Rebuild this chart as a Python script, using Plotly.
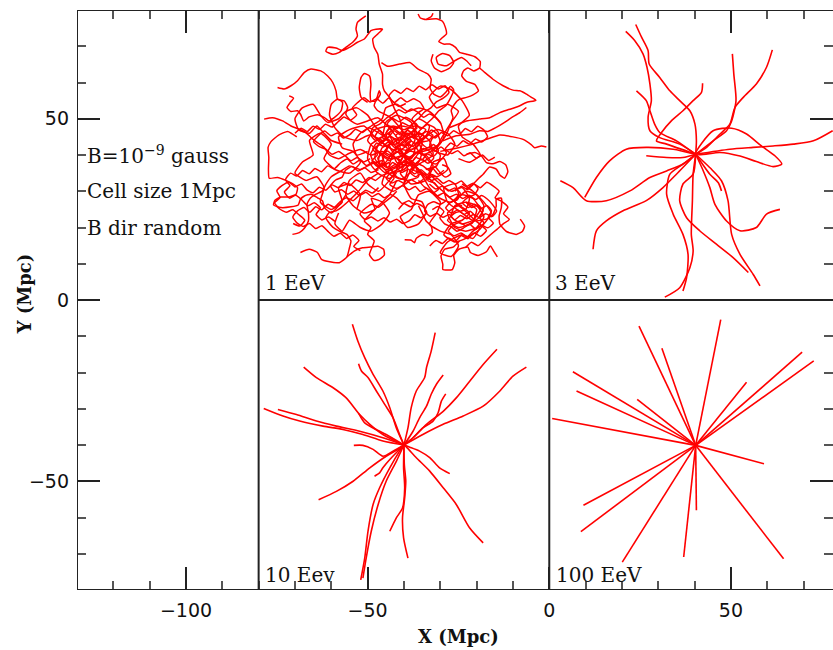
import plotly.graph_objects as go

# ---- axis ranges and ticks (Mpc) ----
x_range = [-130, 78.1]
y_range = [-80, 80]
major_step = 50
minor_step = 10

# ---- panel dividers ----
divider_x = [-80, 0]
divider_y = 0

# ---- panel labels ----
panel_labels = ["1 EeV", "3 EeV", "10 Eev", "100 EeV"]
panel_label_x = [-78.9, 1.0, -78.9, 1.4]
panel_label_y = [4.7, 4.7, -75.8, -75.8]

# ---- run parameters ----
param_lines = ["B=10<sup>\u22129</sup> gauss", "Cell size 1Mpc", "B dir random"]
param_y = [40, 30, 20]

# ---- 1 EeV: diffusive trajectories from the source near (-40, 40) ----
tracks_1eev = [
    [(-50.5,78.4),(-52.8,76.6),(-53.2,74.7),(-52.8,72.9),(-54.1,71.1),(-56.0,69.7),(-57.8,68.3),(-59.6,67.8),(-61.5,68.6),(-61.0,69.7),(-58.7,69.5),(-56.9,68.8),(-55.0,69.7),(-52.8,71.1),(-50.9,72.0),(-49.1,74.3),(-47.7,74.7),(-45.9,74.7),(-47.2,73.4),(-48.6,72.0),(-48.2,69.7),(-47.2,67.8),(-46.8,65.1),(-45.9,62.3),(-45.9,59.5),(-45.4,57.7),(-44.0,55.9),(-42.5,52.5),(-41.0,49.5),(-40.5,46.0),(-41.5,43.0)],
    [(-74.8,58.6),(-73.0,58.2),(-71.1,59.1),(-69.3,60.5),(-67.4,62.8),(-65.6,63.7),(-62.9,63.2),(-61.0,61.8),(-59.6,60.0),(-58.7,57.7),(-58.3,55.4),(-56.4,54.9),(-55.5,53.1),(-56.0,51.3),(-54.6,49.4),(-52.8,48.5),(-50.0,49.4),(-47.2,50.3),(-44.5,48.0),(-42.0,45.0)],
    [(-78.5,49.9),(-76.2,50.3),(-73.4,49.4),(-71.1,48.0),(-68.8,47.1),(-67.0,46.2),(-65.6,44.8),(-63.8,43.4),(-61.9,42.0),(-60.5,40.0),(-58.0,39.0),(-55.0,40.5),(-52.0,41.5),(-49.0,40.0),(-46.0,41.0),(-43.0,39.5)],
    [(-71.6,56.3),(-70.4,55.7),(-71.3,54.5),(-72.2,53.1),(-71.1,52.0),(-69.3,52.2),(-68.4,51.1),(-67.6,49.4),(-66.1,50.5),(-63.8,51.1),(-61.9,50.3),(-60.6,49.4),(-59.2,50.3),(-57.3,52.2),(-56.9,54.5),(-58.3,55.4),(-60.0,54.0),(-60.5,51.0),(-59.0,47.5),(-56.5,45.0),(-53.0,44.0),(-49.5,45.5),(-46.0,44.0)],
    [(-50.0,54.5),(-51.8,55.9),(-52.3,58.6),(-51.8,61.4),(-50.9,62.5),(-49.5,61.8),(-49.1,59.5),(-49.3,56.8),(-49.1,54.9),(-47.7,54.9),(-46.5,56.8),(-46.8,57.7),(-47.4,55.9),(-48.2,53.6),(-47.2,52.2),(-45.4,51.3),(-43.6,50.3),(-41.5,48.0),(-39.5,45.5)],
    [(-36.1,78.9),(-35.5,77.8),(-33.9,77.4),(-32.4,78.3),(-32.0,79.1)],
    [(-33.9,77.4),(-31.1,77.6),(-29.4,76.9),(-28.6,75.2),(-28.3,73.4),(-29.4,72.4),(-30.4,71.3),(-29.1,70.6),(-27.4,70.6),(-25.8,69.7),(-24.7,68.3),(-22.8,67.8),(-20.5,67.1),(-19.0,65.8),(-19.2,64.0),(-20.8,63.2),(-22.4,64.0),(-23.6,63.2),(-24.1,61.8),(-22.8,60.3),(-20.5,59.5),(-19.5,57.7),(-21.0,56.6),(-22.8,55.9),(-24.7,55.4),(-26.1,54.0),(-27.0,52.2),(-26.5,50.3),(-27.4,48.0),(-28.3,45.7),(-30.2,43.0),(-33.0,41.5),(-36.5,40.5)],
    [(-27.4,47.6),(-22.8,49.4),(-19.2,49.9),(-16.4,50.3),(-13.6,51.7),(-10.9,52.6),(-8.1,53.6),(-6.3,54.5),(-3.7,55.1),(-4.9,55.9),(-6.3,56.8),(-8.1,57.7),(-10.0,57.9),(-12.7,59.1),(-15.5,60.9),(-17.8,62.8),(-19.2,64.0)],
    [(-29.3,43.9),(-25.6,45.3),(-21.9,45.7),(-19.2,46.7),(-16.9,46.5),(-14.6,47.6),(-12.3,49.0),(-10.4,50.3),(-8.1,51.7),(-6.3,53.1)],
    [(-30.0,41.0),(-25.0,42.0),(-21.0,43.0),(-17.3,44.3),(-13.6,45.5),(-10.0,45.0),(-7.2,44.3),(-4.9,42.8),(-4.0,42.0),(-2.2,42.5),(-0.8,42.2)],
    [(-46.2,65.5),(-44.5,64.5),(-41.2,65.1),(-38.4,65.5),(-36.1,63.7),(-33.4,62.3),(-32.5,60.9),(-32.8,58.4),(-31.8,56.8),(-30.0,56.0),(-28.3,57.5),(-27.2,59.0),(-26.3,57.9),(-27.2,55.7),(-28.5,53.6),(-30.4,52.2),(-32.0,50.3),(-33.9,48.5),(-35.7,46.7),(-37.5,44.5)],
    [(-32.0,67.8),(-32.5,66.0),(-31.6,64.0),(-29.7,63.0),(-27.4,64.0),(-26.3,65.5),(-27.4,67.4),(-29.4,68.0),(-31.1,66.9),(-30.6,65.1),(-28.3,64.6),(-26.0,66.0),(-24.2,66.9),(-22.8,66.0),(-21.5,64.6)],
    [(-69.5,45.0),(-72.0,46.5),(-74.5,45.5),(-76.6,43.7),(-77.4,42.1),(-77.2,39.3),(-77.3,36.1),(-77.1,33.6),(-74.8,33.8),(-72.5,33.0),(-70.7,32.1),(-69.3,31.0),(-69.7,29.2),(-71.6,28.4),(-73.9,28.4),(-75.5,27.5),(-75.9,26.2),(-73.9,25.5),(-71.1,25.7),(-69.1,26.2),(-68.5,27.8),(-67.4,28.7),(-65.6,29.2),(-63.8,28.2),(-62.4,27.3),(-61.9,25.5),(-60.0,24.0),(-58.0,26.0),(-56.0,29.0)],
    [(-70.7,18.1),(-68.8,18.6),(-67.4,19.8),(-66.3,21.8),(-66.3,24.1),(-66.7,26.4),(-65.8,28.1),(-64.2,29.2),(-62.4,30.1),(-61.5,31.9),(-60.0,34.0),(-57.5,35.5),(-55.0,37.0),(-52.0,36.0),(-49.0,37.5),(-46.0,38.5)],
    [(-68.5,13.1),(-66.1,14.0),(-63.8,13.1),(-62.7,11.2),(-60.8,10.6),(-57.8,10.3),(-55.7,11.9),(-55.0,14.4),(-54.6,16.3),(-55.7,18.1),(-57.8,19.0),(-59.6,20.1),(-61.0,21.8),(-61.5,22.7),(-60.6,24.1),(-58.7,24.6),(-57.3,25.5),(-55.0,27.5),(-52.5,30.0),(-50.0,33.0),(-47.0,35.0)],
    [(-55.7,11.9),(-53.7,13.5),(-51.4,14.4),(-49.1,14.6),(-47.2,14.8),(-45.6,14.0),(-45.4,12.4),(-46.8,11.2),(-48.2,10.9),(-49.5,12.5),(-48.2,16.3),(-50.0,18.1),(-49.1,20.0),(-50.9,21.8),(-49.0,24.0),(-46.5,26.5),(-44.0,29.0),(-42.0,33.0)],
    [(-24.7,16.3),(-26.5,14.6),(-28.8,14.0),(-29.8,12.1),(-29.3,9.8),(-29.3,8.4),(-26.7,8.4),(-26.0,10.3),(-26.3,12.3),(-24.9,14.0),(-22.4,14.6),(-21.7,13.1),(-19.6,12.3),(-17.3,13.3),(-16.2,14.9),(-15.3,13.5),(-14.3,11.9)],
    [(-20.1,21.8),(-17.3,22.3),(-15.5,23.6),(-14.6,25.9),(-14.6,27.8),(-13.2,28.1),(-13.2,25.5),(-13.8,23.2),(-13.6,20.9),(-11.8,18.9),(-9.1,18.1),(-7.4,18.9),(-6.8,20.4),(-8.0,22.3)],
    [(-22.8,40.2),(-20.5,40.7),(-18.7,39.8),(-17.3,37.9),(-15.5,37.6),(-13.6,38.2),(-12.0,37.3),(-11.4,35.4),(-12.3,33.6),(-13.6,34.5),(-14.6,36.1),(-16.4,36.7),(-18.2,34.7),(-19.2,33.8),(-21.0,32.0),(-23.0,30.5)],
    [(-39.8,16.6),(-38.0,16.5),(-37.1,15.8),(-36.6,17.0),(-34.8,18.1),(-33.4,17.7),(-32.2,18.6),(-32.5,20.4),(-33.9,21.8),(-34.8,23.6),(-36.0,26.0)],
    # dense core around the source
    [(-40,40),(-43,43),(-46,42),(-47,38),(-44,35),(-40,36),(-37,39),(-35,43),(-37,47),(-41,48),(-44,46),(-42,42),(-38,41),(-34,40),(-32,37),(-34,33),(-38,32),(-41,35),(-39,38),(-36,36),(-33,31),(-30,28),(-27,27),(-25,29),(-26,32),(-29,31),(-28,27),(-24,24),(-21,22),(-20,25),(-23,27)],
    [(-40,40),(-37,44),(-38,49),(-42,51),(-45,49),(-46,45),(-49,43),(-50,39),(-48,36),(-45,38),(-43,41),(-40,44),(-36,46),(-33,44),(-32,40),(-35,38),(-38,36),(-40,32),(-43,30),(-46,32),(-45,35),(-41,37)],
    [(-40,40),(-42,37),(-45,36),(-48,39),(-47,43),(-44,45),(-41,44),(-39,47),(-36,50),(-33,48),(-34,45),(-37,43),(-35,40),(-31,42),(-29,45),(-30,49),(-33,52),(-36,53),(-39,52),(-42,54),(-45,53),(-46,50),(-49,48),(-52,46),(-54,43),(-53,40),(-50,41)],
    [(-40,40),(-38,38),(-35,35),(-31,34),(-28,36),(-29,39),(-32,38),(-33,35),(-30,32),(-27,30),(-24,31),(-22,28),(-23,25),(-26,24),(-28,22),(-25,20),(-22,21),(-19,23),(-18,26),(-20,29),(-23,30),(-26,27),(-24,26)],
    [(-40,40),(-44,39),(-47,41),(-50,44),(-48,47),(-44,48),(-41,46),(-38,44),(-40,42),(-43,40),(-44,37),(-42,34),(-39,33),(-36,34),(-37,37),(-40,38),(-36,41),(-33,42),(-30,40),(-31,37),(-34,36)],
    [(-40,40),(-44,42),(-48,45),(-51,48),(-55,47),(-58,45),(-57,42),(-54,41),(-52,38),(-55,35),(-59,36),(-62,39),(-60,43),(-63,46),(-66,44),(-65,40),(-68,38),(-70,35),(-67,33),(-64,34),(-62,31),(-63,27),(-60,25),(-57,27),(-58,31),(-55,32),(-52,29),(-53,25)],
    [(-40,40),(-42,36),(-44,33),(-47,30),(-50,32),(-52,35),(-55,33),(-56,29),(-54,26),(-51,24),(-48,25),(-49,28),(-46,27),(-44,24),(-46,21),(-49,19),(-52,20),(-55,22),(-57,19),(-59,21),(-58,24)],
    [(-40,40),(-39,36),(-40,32),(-38,28),(-35,27),(-34,24),(-36,21),(-39,20),(-41,23),(-38,25),(-36,29),(-33,30),(-30,27),(-31,24),(-33,21),(-30,19),(-27,18),(-25,15),(-27,12),(-30,13),(-28,16),(-24,18),(-21,17),(-19,20)],
    [(-40,40),(-37,42),(-34,45),(-31,47),(-28,46),(-26,43),(-28,40),(-31,41),(-30,44),(-27,49),(-25,52),(-28,54),(-31,53),(-33,56),(-30,59),(-27,58),(-24,55),(-22,51),(-25,48),(-24,45),(-21,43),(-19,40),(-22,38),(-25,39)],
    [(-27,27),(-24,29),(-21,28),(-19,25),(-21,22),(-24,21),(-27,23),(-26,26),(-23,27),(-20,26),(-18,23),(-20,20),(-23,19),(-26,20),(-28,24),(-25,26),(-22,24),(-24,22),(-27,21),(-29,18),(-26,16),(-23,17),(-21,19),(-18,21),(-16,24),(-18,27),(-21,30),(-24,32)],
    [(-36,45),(-39,46),(-42,44),(-41,40),(-38,39),(-37,42),(-40,43),(-43,41),(-42,38),(-39,37),(-36,38),(-35,41),(-36,44),(-34,47),(-37,48),(-40,47),(-43,48),(-45,46),(-44,43),(-46,40),(-45,37)],
    [(-45,45),(-48,48),(-50,51),(-53,53),(-56,52),(-58,50),(-61,49),(-63,51),(-65,54),(-68,53),(-70,50),(-69,47),(-66,46),(-64,48),(-62,46),(-60,44),(-57,43)],
    [(-40,40),(-41.5,41.8),(-43.2,41.0),(-44.0,42.8),(-42.6,44.5),(-40.8,44.0),(-39.2,45.6),(-37.5,44.8),(-36.0,46.2),(-34.4,45.1),(-35.2,43.3),(-33.6,42.0),(-31.8,42.9),(-30.5,41.2),(-31.9,39.6),(-33.7,40.3),(-35.0,38.6),(-36.8,39.4),(-38.1,37.8),(-39.9,38.5),(-41.4,37.0),(-43.1,37.9),(-44.6,36.5),(-46.1,37.6),(-45.5,39.5),(-46.9,41.0)],
    [(-40,40),(-38.6,42.1),(-39.8,44.0),(-38.2,46.1),(-36.4,47.5),(-37.6,49.3),(-39.5,50.4),(-41.3,49.2),(-43.1,50.1),(-44.6,48.6),(-43.4,46.9),(-45.2,45.5),(-46.8,46.8),(-48.0,45.0),(-46.6,43.3),(-47.9,41.6),(-46.2,40.2),(-44.5,41.1),(-42.9,39.6),(-41.1,38.6),(-42.2,36.8),(-40.6,35.2),(-38.8,36.1),(-37.1,34.8),(-35.3,35.9),(-33.5,34.6),(-32.0,36.2),(-30.6,34.7),(-29.0,35.8)],
    [(-40,40),(-37.9,39.3),(-36.3,40.8),(-34.5,39.9),(-33.0,38.2),(-31.2,37.5),(-29.6,38.9),(-28.3,40.7),(-29.8,42.2),(-31.5,41.0),(-32.9,42.7),(-32.2,44.6),(-30.4,45.9),(-31.7,47.6),(-33.6,48.4),(-35.4,47.2),(-36.9,48.8),(-38.6,48.0),(-40.4,48.9),(-41.9,47.3),(-43.6,47.9),(-44.8,46.2),(-43.2,44.9),(-41.7,43.2),(-39.9,42.5),(-38.3,43.9),(-36.5,43.1),(-35.0,44.6)],
    [(-40,40),(-41.7,39.0),(-40.3,37.4),(-41.8,35.9),(-43.6,35.1),(-44.9,33.6),(-43.3,32.3),(-41.5,33.0),(-39.7,32.0),(-38.0,33.2),(-36.3,32.3),(-34.6,33.5),(-35.8,35.2),(-37.6,35.9),(-36.5,37.6),(-34.8,37.0),(-33.1,35.8),(-31.4,36.7),(-30.1,35.2),(-28.6,33.9),(-27.1,34.8),(-27.9,36.6),(-29.5,37.3)],
    [(-40,40),(-42.1,40.9),(-43.9,39.5),(-45.6,40.4),(-47.2,39.2),(-46.5,37.3),(-47.8,35.6),(-46.2,34.4),(-44.4,34.9),(-42.7,33.7),(-43.9,31.9),(-42.2,30.8),(-40.3,31.5),(-38.6,30.4),(-36.9,31.3),(-35.5,29.9),(-33.7,30.8),(-32.1,29.5),(-30.5,30.6),(-31.6,32.3),(-33.4,32.9),(-32.6,34.7),(-30.8,33.9)],
    [(-40,40),(-39.1,41.9),(-40.9,42.9),(-42.5,42.0),(-44.3,43.6),(-45.8,42.4),(-47.5,43.3),(-48.6,41.6),(-47.3,40.1),(-48.8,38.4),(-47.4,36.9),(-45.6,37.8),(-44.2,36.3),(-42.4,37.4),(-40.8,36.4),(-39.3,37.9),(-37.4,37.2),(-38.5,35.4),(-36.8,34.0),(-35.1,34.9),(-33.7,33.4),(-32.0,34.3)],
    [(-40,40),(-38.4,41.5),(-36.7,41.9),(-35.3,43.5),(-33.4,43.9),(-32.0,45.4),(-33.8,46.5),(-35.6,45.6),(-37.3,46.6),(-38.9,45.5),(-40.6,46.4),(-42.3,45.4),(-41.2,43.8),(-42.9,42.8),(-44.7,44.1),(-46.3,44.9),(-47.9,44.1),(-49.2,45.6),(-48.5,47.6),(-46.7,48.5),(-45.0,50.0),(-43.1,51.3),(-41.4,52.5),(-39.6,51.6),(-38.0,52.7),(-36.2,51.8),(-34.6,50.4),(-33.0,51.3),(-31.2,50.2),(-29.8,48.6)],
    [(-40,40),(-41.2,42.6),(-39.5,43.8),(-37.7,42.4),(-36.0,43.7),(-37.3,45.5),(-39.1,46.8),(-40.9,45.5),(-42.7,46.7),(-44.2,45.0),(-45.9,43.6),(-44.5,41.8),(-45.9,40.0),(-44.1,38.5),(-42.3,39.2),(-40.5,37.8),(-38.7,39.0),(-36.9,37.6),(-35.2,38.9),(-33.4,37.7),(-31.8,39.2),(-32.9,41.0),(-34.7,41.8),(-36.2,40.2)],
    [(-40,40),(-38.9,37.7),(-37.2,36.2),(-38.9,34.6),(-40.7,33.3),(-42.5,34.0),(-43.5,36.0),(-45.3,35.2),(-46.9,36.6),(-48.4,38.1),(-49.2,40.2),(-48.1,42.0),(-46.4,43.0),(-44.6,44.4),(-42.9,43.4),(-41.2,44.9),(-39.5,43.8),(-37.7,45.1),(-35.9,44.0),(-34.1,45.2),(-32.4,46.9),(-30.7,45.6),(-30.0,43.5),(-31.5,42.0),(-33.2,40.5)],
    # second concentration around (-24, 25)
    [(-33,32),(-31.2,30.6),(-29.5,31.4),(-27.8,30.1),(-26.0,30.9),(-24.5,29.5),(-25.3,27.7),(-27.1,27.0),(-28.5,25.4),(-27.0,24.0),(-25.2,24.8),(-23.5,23.6),(-21.8,24.5),(-20.4,23.0),(-21.2,21.2),(-23.0,20.5),(-24.7,21.4),(-26.5,20.6),(-27.8,19.0),(-26.2,17.7),(-24.3,18.5),(-22.6,17.4),(-20.8,18.3),(-19.1,19.5),(-18.0,21.3),(-19.3,22.9),(-18.2,24.6),(-19.6,26.2),(-21.4,25.5),(-22.9,27.0)],
    [(-34,34),(-32.5,33.0),(-30.8,33.5),(-29.2,32.2),(-27.6,33.0),(-25.9,32.0),(-24.2,32.8),(-22.6,31.4),(-21.0,32.2),(-19.6,30.7),(-20.7,29.0),(-22.4,28.3),(-23.9,26.8),(-22.3,25.5),(-20.6,26.4),(-18.9,25.2),(-17.2,26.1),(-15.9,24.6),(-16.8,22.8),(-15.4,21.2),(-16.9,19.9),(-18.6,20.6),(-20.3,19.6),(-21.9,20.9),(-23.7,19.8),(-25.4,19.0),(-27.0,20.2),(-28.8,21.0),(-30.1,22.7),(-29.0,24.4),(-30.6,25.8),(-32.2,24.9)],
    [(-36,33),(-34.4,31.2),(-32.6,30.1),(-30.9,28.7),(-29.1,29.5),(-27.4,28.4),(-25.6,29.2),(-23.8,28.0),(-22.1,28.9),(-20.3,27.7),(-18.7,28.8),(-17.0,27.8),(-15.6,26.3),(-14.5,24.5),(-15.8,23.0),(-17.5,23.8),(-19.2,22.7),(-20.9,23.6),(-22.7,22.4),(-24.4,23.3),(-26.1,22.1),(-27.5,23.6),(-29.3,22.8),(-31.0,23.9),(-32.8,23.1),(-34.3,24.5),(-33.5,26.3),(-31.8,27.1),(-30.0,26.4),(-28.3,27.5)],
    [(-40,40),(-38.3,38.2),(-36.5,36.6),(-34.8,35.0),(-33.0,33.5),(-31.3,31.8),(-29.5,30.2),(-27.8,28.6),(-26.0,27.1),(-24.3,25.5),(-22.5,24.0),(-20.8,22.3),(-19.0,20.8),(-17.3,19.2),(-18.9,17.6),(-20.7,18.5),(-22.4,16.9),(-24.2,17.8),(-25.9,16.2),(-27.7,17.1),(-29.4,15.6),(-31.2,16.4),(-32.9,14.9)],
    [(-26,30),(-24.2,31.4),(-22.5,30.5),(-20.7,32.0),(-19.0,31.0),(-17.2,32.5),(-15.5,31.5),(-13.8,30.0),(-14.9,28.2),(-13.1,27.2),(-11.4,25.6),(-12.6,23.8),(-11.0,22.2),(-12.7,21.0),(-14.4,19.5),(-16.2,18.0),(-17.9,16.5),(-19.6,15.0),(-21.4,15.9),(-23.1,14.4)],
    # spread between the two concentrations and to the west / north
    [(-47,36),(-49.1,35.2),(-50.8,36.5),(-52.6,35.6),(-54.3,36.8),(-56.1,35.8),(-57.0,33.9),(-58.8,33.1),(-60.2,31.5),(-59.0,29.8),(-57.2,30.4),(-55.5,29.2),(-53.8,30.1),(-52.2,28.8),(-50.5,29.7),(-48.8,28.5),(-47.1,29.4),(-45.4,28.2),(-43.8,29.1),(-42.0,28.1),(-40.5,26.6),(-38.7,27.4),(-37.0,26.2)],
    [(-44,44),(-46.0,45.5),(-47.8,46.6),(-49.7,47.5),(-51.4,46.2),(-53.3,47.1),(-54.9,45.6),(-56.7,44.7),(-58.3,46.1),(-60.1,45.3),(-61.8,46.6),(-63.5,45.4),(-64.9,43.7),(-63.3,42.3),(-61.5,41.6),(-59.8,40.2),(-58.0,41.0),(-56.2,39.8),(-54.6,38.4),(-52.9,39.3),(-51.1,38.1),(-49.3,39.0)],
    [(-42,30),(-43.6,28.3),(-45.3,27.0),(-47.0,25.6),(-48.8,26.4),(-50.6,25.3),(-52.1,23.7),(-50.7,22.2),(-49.0,22.9),(-47.2,21.8),(-45.5,22.7),(-43.8,21.5),(-42.0,22.3),(-40.3,21.1),(-38.5,21.9),(-37.0,23.5),(-35.3,22.7),(-33.7,24.1),(-34.8,25.8),(-36.5,26.6),(-38.2,25.7),(-40.0,26.6),(-41.5,25.0)],
    [(-44,38),(-46.5,36.8),(-48.3,38.2),(-50.4,37.1),(-52.1,38.6),(-54.0,37.5),(-55.6,38.9),(-57.5,37.8),(-59.2,36.2),(-61.0,37.0),(-62.7,35.4),(-64.5,36.3),(-66.1,34.8),(-67.9,35.7),(-69.5,34.2),(-71.2,35.0),(-72.6,33.2),(-71.4,31.5),(-72.9,29.8),(-71.5,28.1),(-69.8,28.9),(-68.1,27.6),(-66.5,26.0),(-64.7,26.8),(-63.0,25.4),(-64.2,23.6),(-62.6,22.1),(-60.8,22.9),(-59.0,21.7)],
    [(-42,35),(-44.0,33.5),(-46.1,34.3),(-47.8,33.0),(-49.6,33.8),(-51.3,32.4),(-53.2,33.1),(-54.8,31.6),(-56.5,32.4),(-58.1,31.0),(-59.9,31.8),(-61.5,30.3),(-63.3,31.1),(-65.0,29.6),(-66.7,30.4),(-68.2,32.0),(-70.0,31.2),(-71.7,32.5),(-73.5,31.6),(-75.0,30.1),(-74.1,28.3),(-75.6,26.8),(-74.2,25.1),(-72.4,24.2),(-70.6,24.9),(-68.9,23.5),(-67.3,22.0),(-68.7,20.4),(-70.5,21.1)],
    [(-47,31),(-48.7,29.5),(-50.5,30.3),(-52.3,28.9),(-54.0,27.4),(-55.8,28.2),(-57.6,27.1),(-59.2,25.6),(-60.9,26.4),(-62.6,24.9),(-64.3,25.7),(-65.9,24.2),(-67.5,25.5),(-69.3,24.6),(-70.6,22.9),(-69.4,21.2),(-67.7,20.3),(-66.0,21.1),(-64.3,19.7),(-62.6,20.5),(-61.0,19.0),(-59.3,17.6),(-57.5,18.4),(-55.8,17.0),(-54.1,17.9),(-52.4,16.4),(-53.8,14.8),(-52.0,13.6)],
    [(-38,46),(-36.6,48.0),(-37.8,49.9),(-36.2,51.6),(-34.5,52.8),(-35.6,54.6),(-37.4,55.5),(-39.2,54.6),(-40.9,55.8),(-42.6,54.5),(-44.2,55.7),(-45.8,54.3),(-47.5,55.5),(-49.3,54.6),(-51.0,55.8),(-52.7,54.5),(-54.2,52.9),(-53.0,51.1),(-54.7,49.6),(-56.5,50.5),(-58.2,49.1),(-59.8,47.7),(-61.6,48.5),(-63.2,47.1),(-65.0,47.9),(-66.6,46.5),(-68.3,47.4),(-70.0,46.0)],
    [(-35,44),(-33.2,45.6),(-31.4,44.7),(-29.7,46.2),(-28.0,45.3),(-26.3,46.7),(-24.6,45.8),(-23.1,47.3),(-21.4,46.4),(-19.7,47.9),(-18.0,46.9),(-17.0,45.0),(-18.6,43.6),(-20.3,44.4),(-22.0,43.0),(-23.7,43.9),(-25.4,42.4),(-27.1,43.3),(-28.6,41.7),(-26.9,40.4),(-25.2,41.2),(-23.5,39.8),(-21.8,40.6),(-20.1,39.1),(-18.4,40.0),(-16.7,38.5),(-15.0,39.4)],
    [(-36,50),(-34.4,51.8),(-32.6,53.0),(-31.0,54.7),(-29.2,55.7),(-27.6,57.3),(-28.7,59.1),(-30.5,58.2),(-32.3,59.4),(-34.0,58.0),(-35.8,59.0),(-37.4,57.5),(-39.2,58.4),(-40.8,57.0),(-42.6,57.9),(-44.1,56.4),(-43.0,54.6),(-41.3,53.4),(-39.5,54.2)],
]

# ---- 3 EeV: source at (40, 40) ----
tracks_3eev = [
    [(23.8,76.0),(25.4,72.5),(27.2,68.8),(27.5,65.1),(30.4,61.4),(33.2,57.7),(35.9,55.0),(38.7,52.2),(40.1,48.5),(40.5,43.9),(40.3,40.2)],
    [(21.05,74.1),(23.5,71.6),(25.8,67.9),(26.9,64.2),(27.7,59.6),(28.1,55.0),(27.2,50.4),(27.7,46.7),(30.4,44.8),(35.9,43.0),(40.3,40.2)],
    [(42.2,59.8),(41.9,57.3),(39.6,55.0),(36.8,52.2),(33.6,49.4),(30.9,46.2),(29.5,43.9),(32.3,43.0),(40.3,40.2)],
    [(24.0,57.7),(26.7,55.0),(27.7,52.2),(29.0,48.5),(30.4,46.2),(35.0,43.9),(40.3,40.2)],
    [(50.4,67.9),(50.8,62.3),(51.4,55.0),(50.2,49.4),(48.8,46.7),(45.1,43.9),(40.3,40.2)],
    [(61.4,69.0),(59.8,64.2),(57.0,59.6),(53.4,55.9),(51.1,53.1),(49.7,48.5),(47.0,45.8),(43.3,42.1),(40.3,40.2)],
    [(78.0,46.7),(72.7,43.9),(67.2,43.0),(61.6,42.5),(56.1,42.1),(49.7,41.6),(40.3,40.2)],
    [(40.3,40.2),(45.1,46.7),(50.2,47.4),(54.3,45.8),(58.4,42.5),(62.1,39.8),(64.0,37.5),(61.6,36.8),(57.0,38.2),(52.5,39.7),(47.0,40.7),(40.3,40.2)],
    [(3.05,32.9),(6.54,31.0),(10.2,27.4),(15.7,27.4),(22.2,30.1),(27.7,33.8),(32.3,35.6),(36.8,37.5),(40.3,40.2)],
    [(9.76,28.3),(12.97,33.8),(16.6,38.4),(21.2,41.6),(26.7,42.1),(34.1,41.6),(40.3,40.2)],
    [(12.05,14.0),(12.97,19.1),(15.7,21.8),(20.3,24.6),(26.7,27.4),(31.3,31.0),(35.0,34.7),(40.3,40.2)],
    [(63.5,25.0),(59.8,23.7),(57.0,20.0),(52.5,19.1),(48.8,21.8),(45.6,26.4),(44.2,31.0),(42.4,35.6),(40.3,40.2)],
    [(58.0,3.9),(56.1,7.1),(52.5,12.6),(50.2,18.1),(49.2,27.4),(47.4,32.9),(45.1,35.6),(40.3,40.2)],
    [(54.8,7.6),(50.6,11.7),(46.0,15.4),(41.4,19.1),(37.8,22.7),(35.9,27.4),(36.8,32.0),(39.6,34.7),(40.3,40.2)],
    [(31.8,0.8),(35.9,3.4),(38.7,8.9),(39.6,13.5),(39.1,18.1),(39.4,27.4),(39.6,34.7),(40.3,40.2)],
    [(36.8,2.5),(37.8,6.2),(38.2,12.6),(36.8,18.1),(34.1,23.7),(32.3,29.2),(33.2,34.7),(36.8,37.5),(40.3,40.2)],
    [(26.7,39.8),(32.3,39.3),(36.8,39.3),(40.3,40.2)],
    [(47.4,30.1),(46.5,32.4),(44.2,34.7),(40.3,40.2)],
]

# ---- 10 EeV: source at (-40, -40) ----
tracks_10eev = [
    [(-54.2,-6.7),(-52.7,-11.3),(-50.8,-15.9),(-48.5,-20.5),(-45.8,-25.1),(-43.9,-29.7),(-42.1,-35.3),(-40,-40)],
    [(-52.5,-17.6),(-51.7,-19.6),(-49.9,-21.4),(-47.6,-25.1),(-45.3,-28.8),(-43.0,-32.5),(-41.2,-37.1),(-40,-40)],
    [(-67.6,-18.5),(-64.1,-21.4),(-59.5,-24.2),(-55.9,-27.0),(-52.2,-31.6),(-49.4,-34.3),(-45.8,-37.1),(-40,-40)],
    [(-78.6,-29.9),(-73.3,-32.0),(-68.7,-33.4),(-62.3,-34.8),(-56.8,-35.7),(-51.3,-37.1),(-45.8,-38.9),(-40,-40)],
    [(-74.7,-30.2),(-69.6,-31.6),(-64.1,-33.4),(-58.6,-34.8),(-52.2,-36.2),(-45.8,-38.0),(-40,-40)],
    [(-52.4,-31.4),(-50.8,-33.9),(-48.5,-35.3),(-44.9,-37.1),(-40,-40)],
    [(-31.4,-9.0),(-32.5,-14.1),(-33.8,-18.7),(-34.3,-21.4),(-36.6,-25.1),(-38.0,-29.7),(-38.9,-35.3),(-40,-40)],
    [(-29.2,-20.7),(-31.1,-23.3),(-32.5,-26.0),(-33.8,-29.3),(-35.7,-32.5),(-37.5,-36.2),(-40,-40)],
    [(-28.5,-25.9),(-29.7,-27.9),(-30.6,-31.1),(-32.0,-33.4),(-34.8,-35.3),(-37.5,-38.0),(-40,-40)],
    [(-14.4,-13.6),(-18.2,-17.8),(-21.9,-22.4),(-25.6,-27.0),(-29.2,-30.7),(-33.8,-34.3),(-37.5,-38.0),(-40,-40)],
    [(-6.3,-18.5),(-10.0,-21.0),(-13.6,-25.1),(-18.2,-29.3),(-23.7,-32.0),(-29.2,-34.3),(-34.8,-37.1),(-40,-40)],
    [(-53.8,-40.1),(-51.3,-40.1),(-48.5,-41.2),(-45.8,-43.1),(-43.0,-41.7),(-40,-40)],
    [(-27.4,-47.9),(-30.2,-46.3),(-32.9,-43.5),(-35.7,-41.7),(-38.4,-40.6),(-40,-40)],
    [(-63.5,-55.1),(-58.6,-52.8),(-54.0,-50.0),(-49.4,-46.3),(-44.9,-43.1),(-42.1,-41.5),(-40,-40)],
    [(-18.2,-67.0),(-21.9,-62.9),(-25.6,-56.4),(-29.2,-51.8),(-32.9,-47.2),(-36.6,-43.5),(-39.3,-40.6),(-40,-40)],
    [(-38.9,-71.2),(-40.1,-65.6),(-40.4,-60.1),(-39.8,-54.6),(-39.5,-50.0),(-39.9,-45.4),(-40,-40)],
    [(-43.9,-63.8),(-42.1,-60.1),(-40.4,-57.4),(-39.8,-51.8),(-40.1,-46.3),(-40,-40)],
    [(-51.9,-77.2),(-50.8,-71.2),(-49.9,-63.8),(-48.5,-56.4),(-46.7,-51.8),(-43.9,-46.3),(-41.2,-41.7),(-40,-40)],
    [(-51.3,-76.7),(-50.4,-71.2),(-49.0,-63.8),(-47.1,-56.4),(-44.9,-50.0),(-42.1,-44.5),(-40,-40)],
    [(-48.1,-48.6),(-46.7,-47.7),(-45.8,-46.3),(-43.9,-44.0),(-40,-40)],
]

# ---- 100 EeV: nearly straight paths from the source at (40, -40) ----
source_100eev = (40.3, -40.1)
ends_100eev = [
    (24.7,-7.2),(31.0,-13.3),(47.2,-5.4),(6.5,-19.8),(7.5,-25.1),(24.2,-27.4),
    (0.8,-32.7),(54.3,-22.7),(69.6,-14.4),(72.8,-16.8),(59.1,-45.2),(9.4,-56.6),
    (8.7,-63.9),(20.1,-72.3),(37.0,-70.9),(40.5,-58.0),(64.5,-71.4),
]
tracks_100eev = [[source_100eev, end] for end in ends_100eev]


def flatten(tracks):
    xs, ys = [], []
    for tr in tracks:
        for x, y in tr:
            xs.append(x)
            ys.append(y)
        xs.append(None)
        ys.append(None)
    return xs, ys


fig = go.Figure()
for tracks, shape, smooth, width in [(tracks_1eev, "spline", 0.5, 1.5),
                                     (tracks_3eev, "spline", 0.7, 1.6),
                                     (tracks_10eev, "spline", 0.7, 1.6),
                                     (tracks_100eev, "linear", 0, 1.6)]:
    xs, ys = flatten(tracks)
    line = dict(color="#ff0000", width=width, shape=shape)
    if shape == "spline":
        line["smoothing"] = smooth
    fig.add_trace(go.Scatter(x=xs, y=ys, mode="lines", connectgaps=False,
                             line=line, hoverinfo="skip", showlegend=False))

frame = "#222222"
serif = "DejaVu Serif"
sans = "DejaVu Sans"
ink = "#111111"

# outer frame (left, top, bottom) and panel dividers
shapes = [
    dict(type="line", x0=x_range[0], x1=x_range[0], y0=y_range[0], y1=y_range[1]),
    dict(type="line", x0=x_range[0], x1=x_range[1], y0=y_range[1], y1=y_range[1]),
    dict(type="line", x0=x_range[0], x1=x_range[1], y0=y_range[0], y1=y_range[0]),
    dict(type="line", x0=divider_x[0], x1=divider_x[0], y0=y_range[0], y1=y_range[1]),
    dict(type="line", x0=divider_x[1], x1=divider_x[1], y0=y_range[0], y1=y_range[1]),
    dict(type="line", x0=divider_x[0], x1=x_range[1], y0=divider_y, y1=divider_y),
]
for s in shapes:
    s.update(xref="x", yref="y", line=dict(color=frame, width=2), layer="above")

annotations = []
for txt, x, y in zip(panel_labels, panel_label_x, panel_label_y):
    annotations.append(dict(x=x, y=y, xref="x", yref="y", text=txt, showarrow=False,
                            xanchor="left", yanchor="middle",
                            font=dict(family=serif, size=20, color=ink)))
for txt, y in zip(param_lines, param_y):
    annotations.append(dict(x=-127.8, y=y, xref="x", yref="y", text=txt, showarrow=False,
                            xanchor="left", yanchor="middle",
                            font=dict(family=serif, size=20, color=ink)))
annotations.append(dict(x=0.504, y=-0.08, xref="paper", yref="paper", text="<b>X (Mpc)</b>",
                        showarrow=False, xanchor="center", yanchor="middle",
                        font=dict(family=serif, size=18, color=ink)))
annotations.append(dict(x=-0.070, y=0.51, xref="paper", yref="paper", text="<b>Y (Mpc)</b>",
                        showarrow=False, xanchor="center", yanchor="middle", textangle=-90,
                        font=dict(family=serif, size=18, color=ink)))

axis_common = dict(
    tick0=0, dtick=major_step, ticks="inside", ticklen=23, tickwidth=2, tickcolor=frame,
    showline=False, mirror="ticks", showgrid=False, zeroline=False,
    ticklabelstandoff=7,
    tickfont=dict(family=sans, size=19, color=ink),
    minor=dict(tick0=0, dtick=minor_step, ticks="inside", ticklen=9, tickwidth=1.5,
               tickcolor="#555555", showgrid=False),
)

fig.update_layout(
    width=833, height=650,
    margin=dict(l=77, r=0, t=10, b=60),
    paper_bgcolor="white", plot_bgcolor="white",
    xaxis=dict(range=x_range, **axis_common),
    yaxis=dict(range=y_range, **axis_common),
    shapes=shapes, annotations=annotations,
)

fig.write_html("out.html")
